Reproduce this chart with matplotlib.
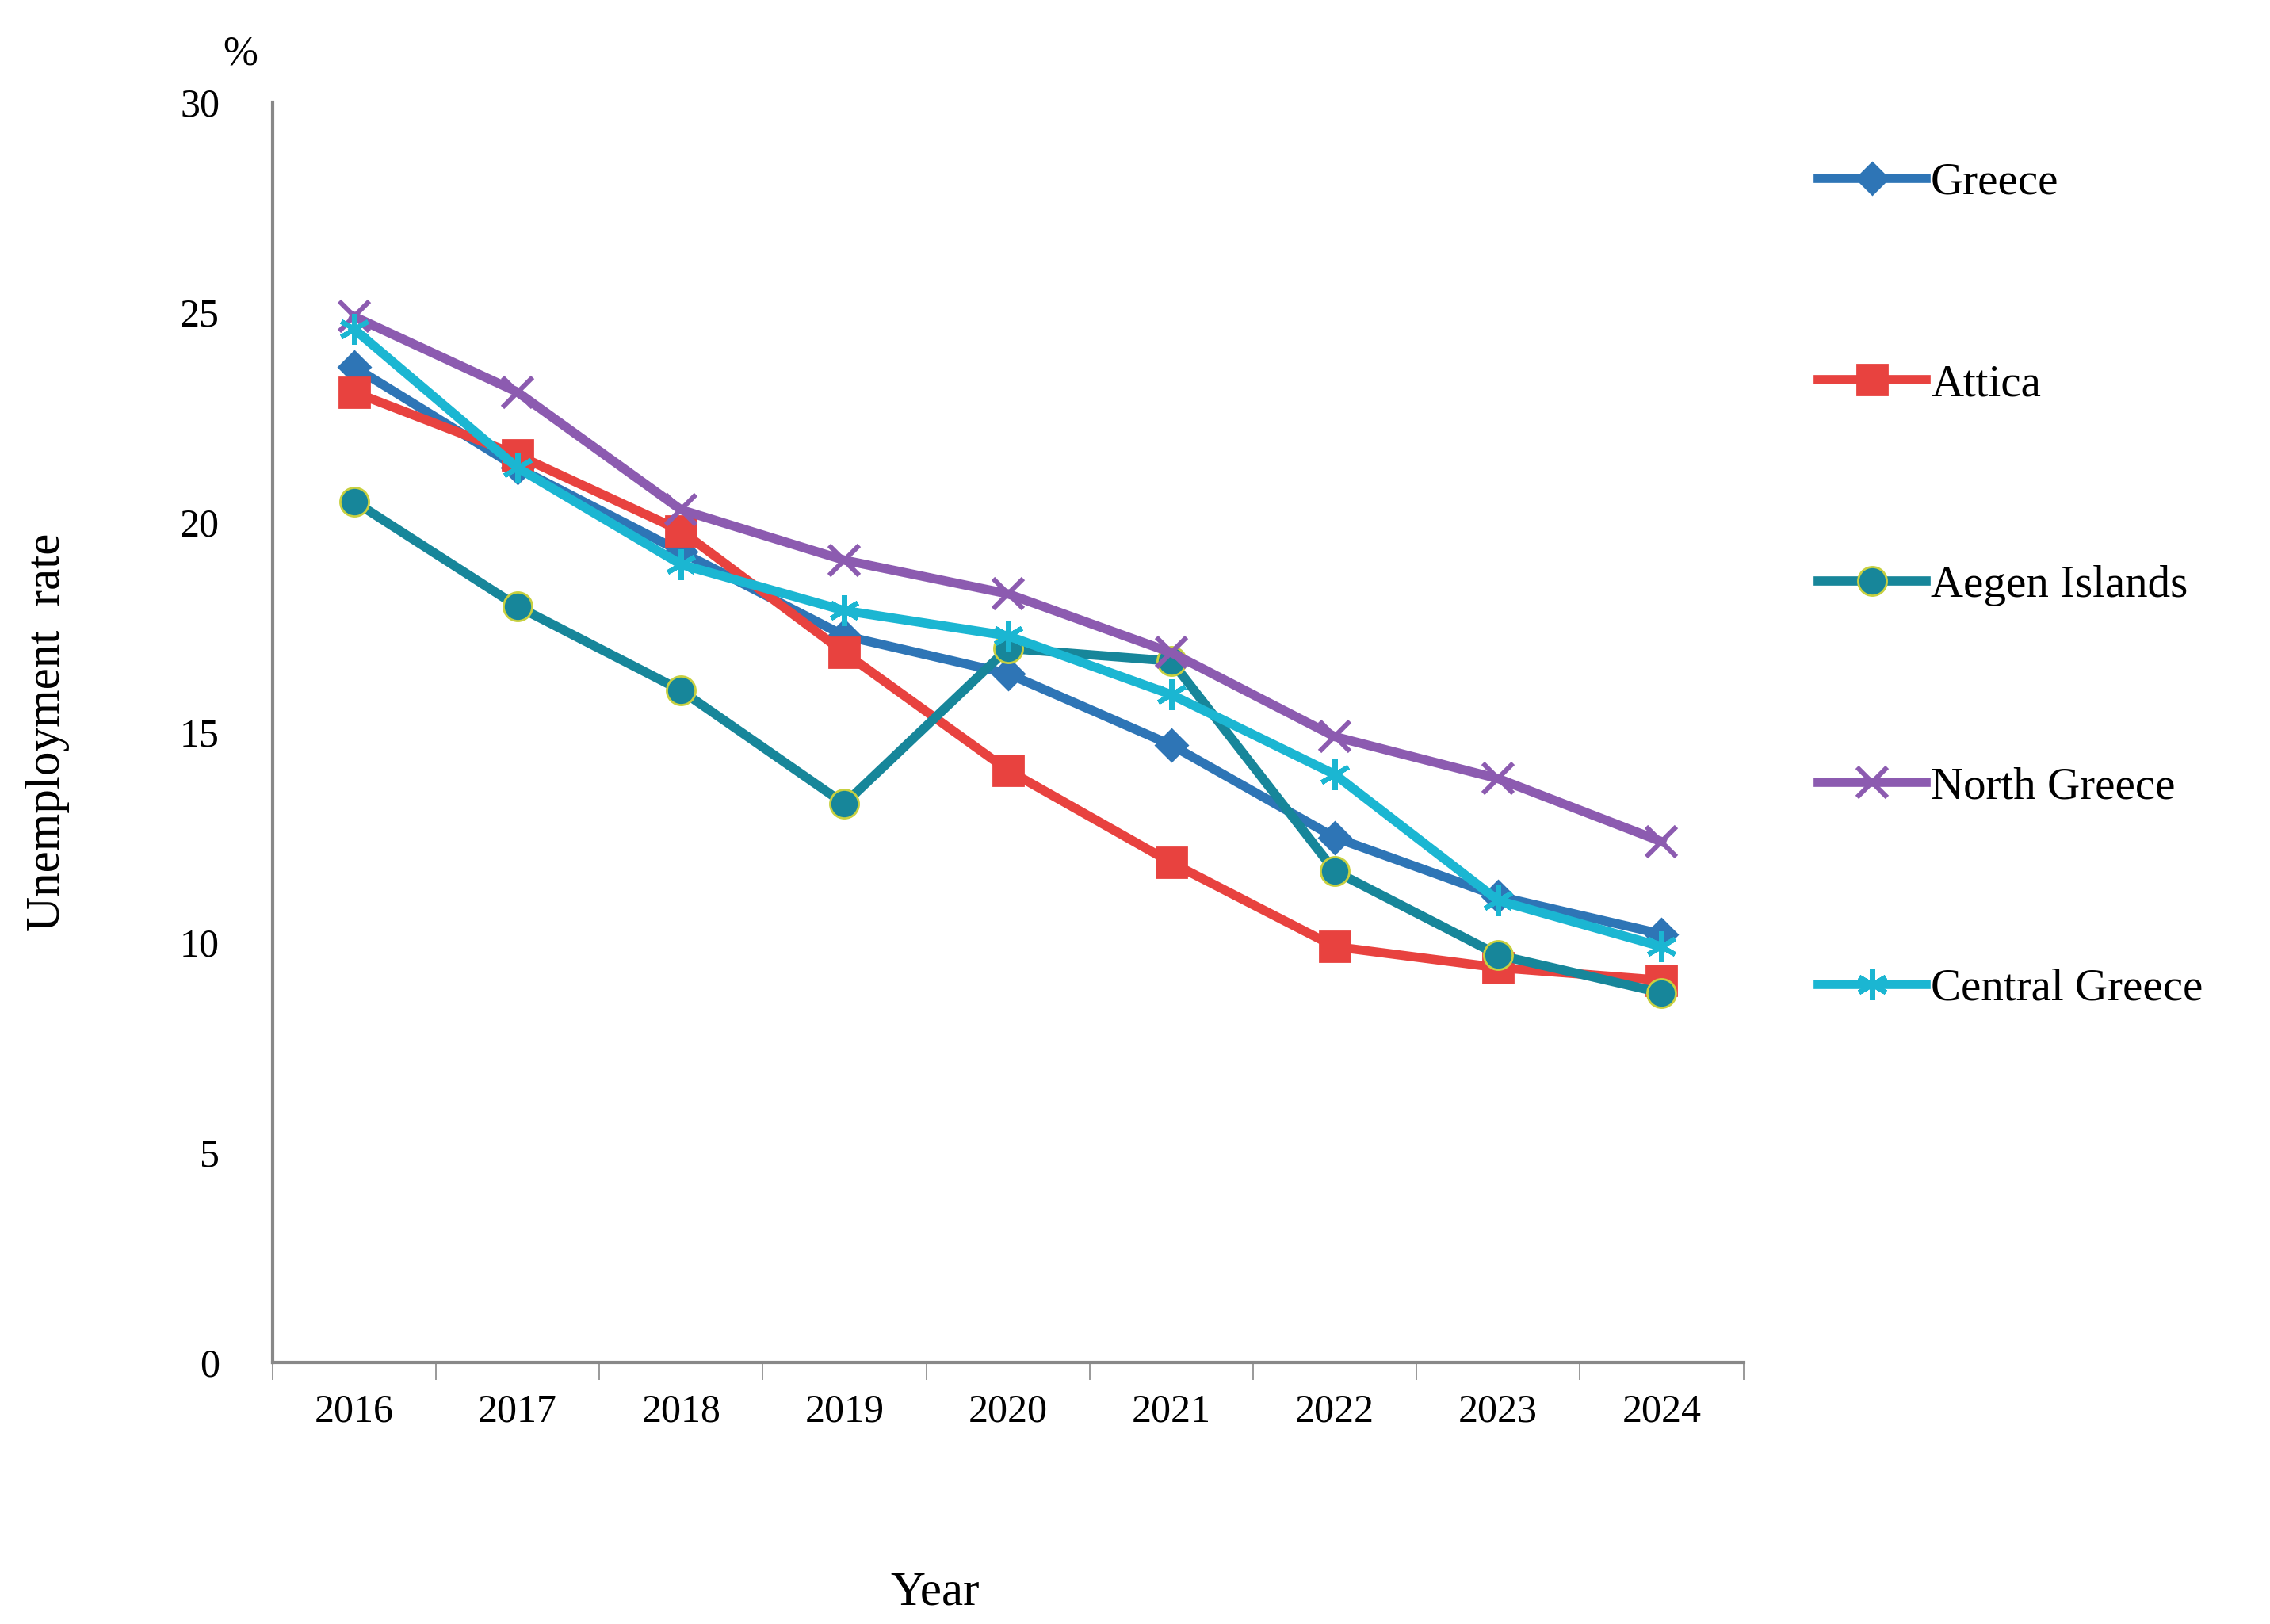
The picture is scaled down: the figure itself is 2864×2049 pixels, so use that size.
import numpy as np
import matplotlib.pyplot as plt

plt.rcParams['font.family'] = ['Liberation Serif', 'DejaVu Serif']

years = np.arange(2016, 2025)
series = {
    'Greece':         ([23.7, 21.3, 19.3, 17.3, 16.4, 14.7, 12.5, 11.1, 10.2], '#2E75B6', 'D', 10),
    'Attica':         ([23.1, 21.6, 19.8, 16.9, 14.1, 11.9, 9.9, 9.4, 9.1], '#E8423F', 's', 14),
    'Aegen Islands':  ([20.5, 18.0, 16.0, 13.3, 17.0, 16.7, 11.7, 9.7, 8.8], '#17869A', 'o', 13),
    'North Greece':   ([24.9, 23.1, 20.3, 19.1, 18.3, 16.9, 14.9, 13.9, 12.4], '#8C5BB0', 'x', 14),
    'Central Greece': ([24.6, 21.3, 19.0, 17.9, 17.3, 15.9, 14.0, 11.0, 9.9], '#1BB6D2', (6, 2, 0), 14),
}

fig = plt.figure(figsize=(14.32, 10.245), dpi=200)
ax = fig.add_axes([0.12, 0.161, 0.648, 0.776])

for name, (vals, col, mk, ms) in series.items():
    edge = '#C8D040' if name == 'Aegen Islands' else col
    ax.plot(years, vals, color=col, linewidth=4.2, marker=mk, markersize=ms,
            markeredgewidth=2.2 if mk in ('x', (6, 2, 0)) else 1,
            markeredgecolor=edge, label=name)

ax.set_xlim(2015.5, 2024.5)
ax.set_ylim(0, 30)
ax.set_yticks(range(0, 31, 5))
ax.set_xticks(years)
ax.set_xticks(np.arange(2015.5, 2025, 1), minor=True)
ax.tick_params(axis='x', which='major', length=0, pad=14, labelsize=18)
ax.tick_params(axis='x', which='minor', length=8, direction='out', color='#888888')
ax.tick_params(axis='y', length=0, pad=24, labelsize=18)
for s in ['top', 'right']:
    ax.spines[s].set_visible(False)
for s in ['left', 'bottom']:
    ax.spines[s].set_color('#888888')
    ax.spines[s].set_linewidth(1.5)

ax.set_ylabel('Unemployment  rate', fontsize=22, labelpad=50)
ax.text(-0.01, 1.03, '%', transform=ax.transAxes, fontsize=19, ha='right')
fig.text(0.412, 0.012, 'Year', fontsize=22, ha='center')

fig.legend(loc='upper left', bbox_to_anchor=(0.783, 0.925), frameon=False,
           fontsize=20.5, handlelength=2.4, labelspacing=3.55, handletextpad=0.1)

fig.savefig('out.png', dpi=200)
